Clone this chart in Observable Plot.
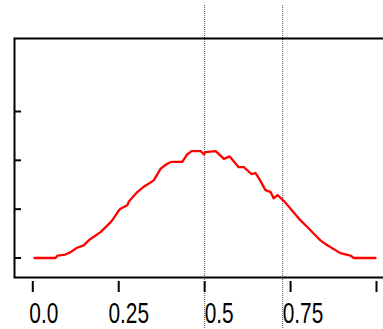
<!DOCTYPE html>
<html>
<head>
<meta charset="utf-8">
<script src="https://cdn.jsdelivr.net/npm/d3@7"></script>
<script src="https://cdn.jsdelivr.net/npm/@observablehq/plot@0.6"></script>
<style>
  html, body { margin: 0; padding: 0; background: #fff; }
  #chart svg { display: block; }
</style>
</head>
<body>
<div id="chart"></div>
<script>
// Curve (x in [0,1], y in tick units)
const curveX = [0.005, 0.066, 0.072, 0.095, 0.110, 0.129, 0.148, 0.163, 0.168, 0.197,
                0.226, 0.235, 0.250, 0.255, 0.275, 0.279, 0.304, 0.323, 0.352, 0.372,
                0.391, 0.404, 0.435, 0.449, 0.462, 0.488, 0.498, 0.502, 0.532, 0.556,
                0.573, 0.599, 0.614, 0.636, 0.648, 0.658, 0.677, 0.692, 0.701, 0.712,
                0.730, 0.750, 0.779, 0.798, 0.827, 0.837, 0.857, 0.895, 0.924, 0.934, 0.997];
const curveY = [0, 0, 0.05, 0.07, 0.12, 0.21, 0.26, 0.36, 0.39, 0.53,
                0.73, 0.81, 0.97, 1.01, 1.08, 1.15, 1.35, 1.46, 1.59, 1.83,
                1.93, 1.97, 1.97, 2.12, 2.19, 2.19, 2.12, 2.17, 2.19, 2.03,
                2.08, 1.86, 1.86, 1.72, 1.74, 1.63, 1.39, 1.35, 1.22, 1.29,
                1.17, 1.01, 0.77, 0.64, 0.43, 0.36, 0.26, 0.10, 0.05, 0, 0];
const xTicks = [0, 0.25, 0.5, 0.75, 1];
const yTicks = [0, 1, 2, 3];
const tickLabels = ["0.0", "0.25", "0.5", "0.75"];
const tickLabelAt = [-0.01, 0.22, 0.5, 0.727];
const markerLines = [0.5, 0.727];

const curve = curveX.map((x, i) => ({x, y: curveY[i]}));
const labels = tickLabels.map((t, i) => ({t, x: tickLabelAt[i]}));

const chart = Plot.plot({
  width: 383,
  height: 329,
  marginLeft: 14,
  marginRight: -3,
  marginTop: 38,
  marginBottom: 52,
  style: {background: "#fff", color: "#000"},
  x: {domain: [0, 1], range: [32.3, 376], label: null},
  y: {domain: [0, 3], range: [257.5, 111], label: null},
  marks: [
    Plot.ruleX(markerLines, {x: d => d, stroke: "#555", strokeWidth: 1, strokeDasharray: "1,1", insetTop: -33, insetBottom: -52}),
    Plot.frame({stroke: "#000", strokeWidth: 2}),
    Plot.axisY(yTicks, {anchor: "left", tickSize: 7, dx: 7, strokeWidth: 2, fill: "none", label: null}),
    Plot.axisX(xTicks, {anchor: "bottom", tickSize: 11, dy: 4, strokeWidth: 2, fill: "none", label: null}),
    Plot.line(curve, {x: "x", y: "y", stroke: "#ff0000", strokeWidth: 2.3}),
    Plot.text(labels, {x: "x", text: "t", frameAnchor: "bottom", lineAnchor: "bottom", textAnchor: "start", dy: 45.7,
      fontSize: 29, fontFamily: "'Liberation Sans', Arial, sans-serif", fill: "#000", className: "ticklabels"})
  ]
});
document.getElementById("chart").appendChild(chart);
// condense the tick-label glyphs horizontally (narrow typeface look)
d3.select(chart).selectAll(".ticklabels text").each(function() {
  const w = this.getComputedTextLength();
  this.setAttribute("textLength", (w * 0.72).toFixed(1));
  this.setAttribute("lengthAdjust", "spacingAndGlyphs");
});
</script>
</body>
</html>
